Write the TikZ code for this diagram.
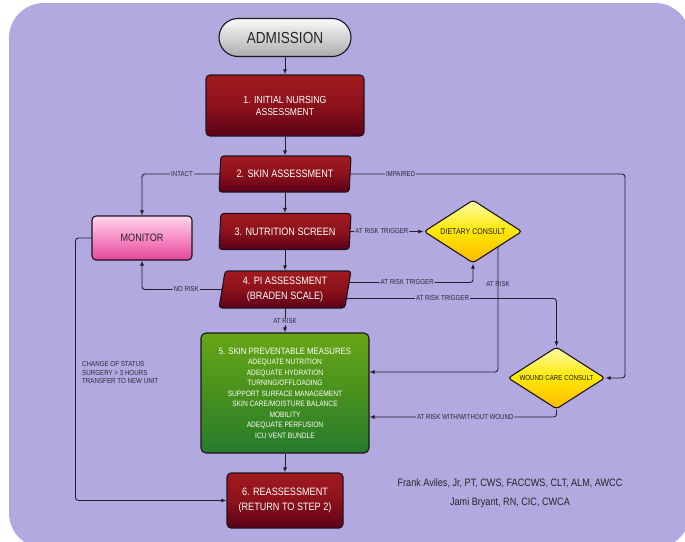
\documentclass[tikz,border=0pt]{standalone}
\usepackage{fontspec}
\setmainfont{Liberation Sans}[FakeStretch=0.85]
\usetikzlibrary{shapes.geometric,arrows.meta,calc}
\pgfdeclarelayer{back}
\pgfdeclarelayer{lines}
\pgfsetlayers{back,lines,main}
\definecolor{bgc}{RGB}{177,169,223}
\definecolor{redA}{RGB}{162,26,32}
\definecolor{redB}{RGB}{140,18,26}
\definecolor{redC}{RGB}{92,0,24}
\definecolor{grnA}{RGB}{102,166,22}
\definecolor{grnB}{RGB}{72,145,30}
\definecolor{grnC}{RGB}{38,122,44}
\definecolor{pnkA}{RGB}{255,214,236}
\definecolor{pnkB}{RGB}{246,140,196}
\definecolor{pnkC}{RGB}{228,70,152}
\definecolor{yelA}{RGB}{255,255,170}
\definecolor{yelB}{RGB}{255,230,0}
\definecolor{yelC}{RGB}{255,185,0}
\definecolor{gryA}{RGB}{250,250,250}
\definecolor{gryB}{RGB}{172,172,172}
\definecolor{edgec}{RGB}{30,20,30}
\definecolor{linec}{RGB}{35,30,45}
\definecolor{labc}{RGB}{45,40,60}
\begin{document}
\begin{tikzpicture}[x=1pt,y=-1pt,
  boxbase/.style={draw=edgec, line width=1.1pt, inner sep=0pt, align=center},
  redbox/.style={boxbase, rounded corners=4, top color=redA, bottom color=redC, middle color=redB, text=white},
  redpara/.style={boxbase, shape=trapezium, trapezium left angle=76, trapezium right angle=104,
     trapezium stretches body=true, minimum width=132, minimum height=36, rounded corners=3,
     top color=redA, bottom color=redC, middle color=redB, text=white},
  greenbox/.style={boxbase, rounded corners=5, top color=grnA, bottom color=grnC, middle color=grnB, text=white},
  pinkbox/.style={boxbase, rounded corners=4, top color=pnkA, bottom color=pnkC, middle color=pnkB, text=black!85},
  yelldia/.style={boxbase, diamond, aspect=1.55, rounded corners=3, top color=yelA, bottom color=yelC, middle color=yelB, text=black!90},
  pill/.style={boxbase, rounded corners=19, minimum width=132, minimum height=38, top color=gryA, bottom color=gryB, text=black!85},
  conn/.style={draw=linec, line width=0.9pt, rounded corners=3},
  arr/.style={-{Latex[length=5pt,width=4pt]}},
  lab/.style={font=\fontsize{7.2}{8}\selectfont, text=labc, fill=bgc, inner sep=1pt},
  labnf/.style={font=\fontsize{7.2}{8}\selectfont, text=labc, inner sep=1pt},
  mainf/.style={font=\fontsize{10.7}{15}\selectfont}
]
\useasboundingbox (0,0) rectangle (685,541);
\begin{pgfonlayer}{back}
\fill[white] (0,0) rectangle (685,541);
\fill[bgc, rounded corners=35] (9,3) rectangle (690,548);
\end{pgfonlayer}

% nodes
\node[pill] (adm) at (285,37.5) {\fontsize{16}{18}\selectfont ADMISSION};
\node[redbox, minimum width=158, minimum height=61] (b1) at (285,105.5)
  {\fontsize{10.3}{14}\selectfont 1. INITIAL NURSING\\ASSESSMENT};
\node[redpara, mainf] (b2) at (285,174) {2. SKIN ASSESSMENT};
\node[redpara, mainf] (b3) at (285,231.5) {3. NUTRITION SCREEN};
\node[redpara, mainf, minimum height=37] (b4) at (285,289.5) {4. PI ASSESSMENT\\(BRADEN SCALE)};
\node[pinkbox, mainf, minimum width=100, minimum height=44] (mon) at (142,238) {MONITOR};
\node[yelldia, minimum width=98, minimum height=63, font=\fontsize{8.3}{10}\selectfont] (diet) at (473,231.5) {DIETARY CONSULT};
\node[yelldia, minimum width=97, minimum height=62, font=\fontsize{7.3}{9}\selectfont] (wound) at (556.5,378) {WOUND CARE CONSULT};
\node[greenbox, minimum width=168, minimum height=120, font=\fontsize{7.8}{10.5}\selectfont] (b5) at (285,393)
  {{\fontsize{9.2}{11}\selectfont 5. SKIN PREVENTABLE MEASURES}\\
   ADEQUATE NUTRITION\\ADEQUATE HYDRATION\\TURNING/OFFLOADING\\SUPPORT SURFACE MANAGEMENT\\
   SKIN CARE/MOISTURE BALANCE\\MOBILITY\\ADEQUATE PERFUSION\\ICU VENT BUNDLE};
\node[redbox, minimum width=116, minimum height=55, mainf] (b6) at (285,500.5)
  {6. REASSESSMENT\\(RETURN TO STEP 2)};

\node[anchor=north west, align=left, inner sep=0pt, font=\fontsize{7.3}{8.4}\selectfont, text=labc] (chg) at (82,361.5)
  {CHANGE OF STATUS\\SURGERY > 3 HOURS\\TRANSFER TO NEW UNIT};
\node[font=\fontsize{10.7}{12}\selectfont, text=black!85] (au1) at (510,483) {Frank Aviles, Jr, PT, CWS, FACCWS, CLT, ALM, AWCC};
\node[font=\fontsize{10.7}{12}\selectfont, text=black!85] (au2) at (510,502.5) {Jami Bryant, RN, CIC, CWCA};

\coordinate (impc) at (625,174);

% connectors
\begin{pgfonlayer}{lines}
\draw[conn,arr] (adm.south) -- (b1.north);
\draw[conn,arr] (b1.south) -- (b2.north -| b2.center);
\draw[conn,arr] (b2.center) -- (b3.north -| b3.center);
\draw[conn,arr] (b3.center) -- (b4.north -| b4.center);
\draw[conn,arr] (b4.center) -- node[lab, pos=0.745]{AT RISK} (b5.north);
\draw[conn,arr] (b5.south) -- (b6.north);
\draw[conn,arr] (b2.center) -| node[lab, pos=0.36]{INTACT} (mon.north);
\draw[conn,arr] (b4.center) -| node[lab, pos=0.345]{NO RISK} (mon.south);
\draw[conn,arr] (mon.west) -- ++(-16,0) |- (b6.west);
\draw[conn,arr] (b2.center) -- node[lab, pos=0.34]{IMPAIRED} (impc) |- (wound.east);
\draw[conn,arr] (b3.center) -- node[lab, pos=0.7]{AT RISK TRIGGER} (diet.west);
\draw[conn,arr] ($(b4.center)+(0,-7)$) -| node[lab, pos=0.325]{AT RISK TRIGGER} (diet.south);
\draw[conn,arr] ($(b4.center)+(0,9)$) -| node[lab, pos=0.29]{AT RISK TRIGGER} (wound.north);
\draw[conn,arr] ($(diet.center)+(25,0)$) |- node[labnf, pos=0.187]{AT RISK} ($(b5.east)+(0,-21)$);
\draw[conn,arr] (wound.south) |- node[lab, pos=0.744]{AT RISK WITH/WITHOUT WOUND} ($(b5.east)+(0,24)$);
\end{pgfonlayer}
\end{tikzpicture}
\end{document}
